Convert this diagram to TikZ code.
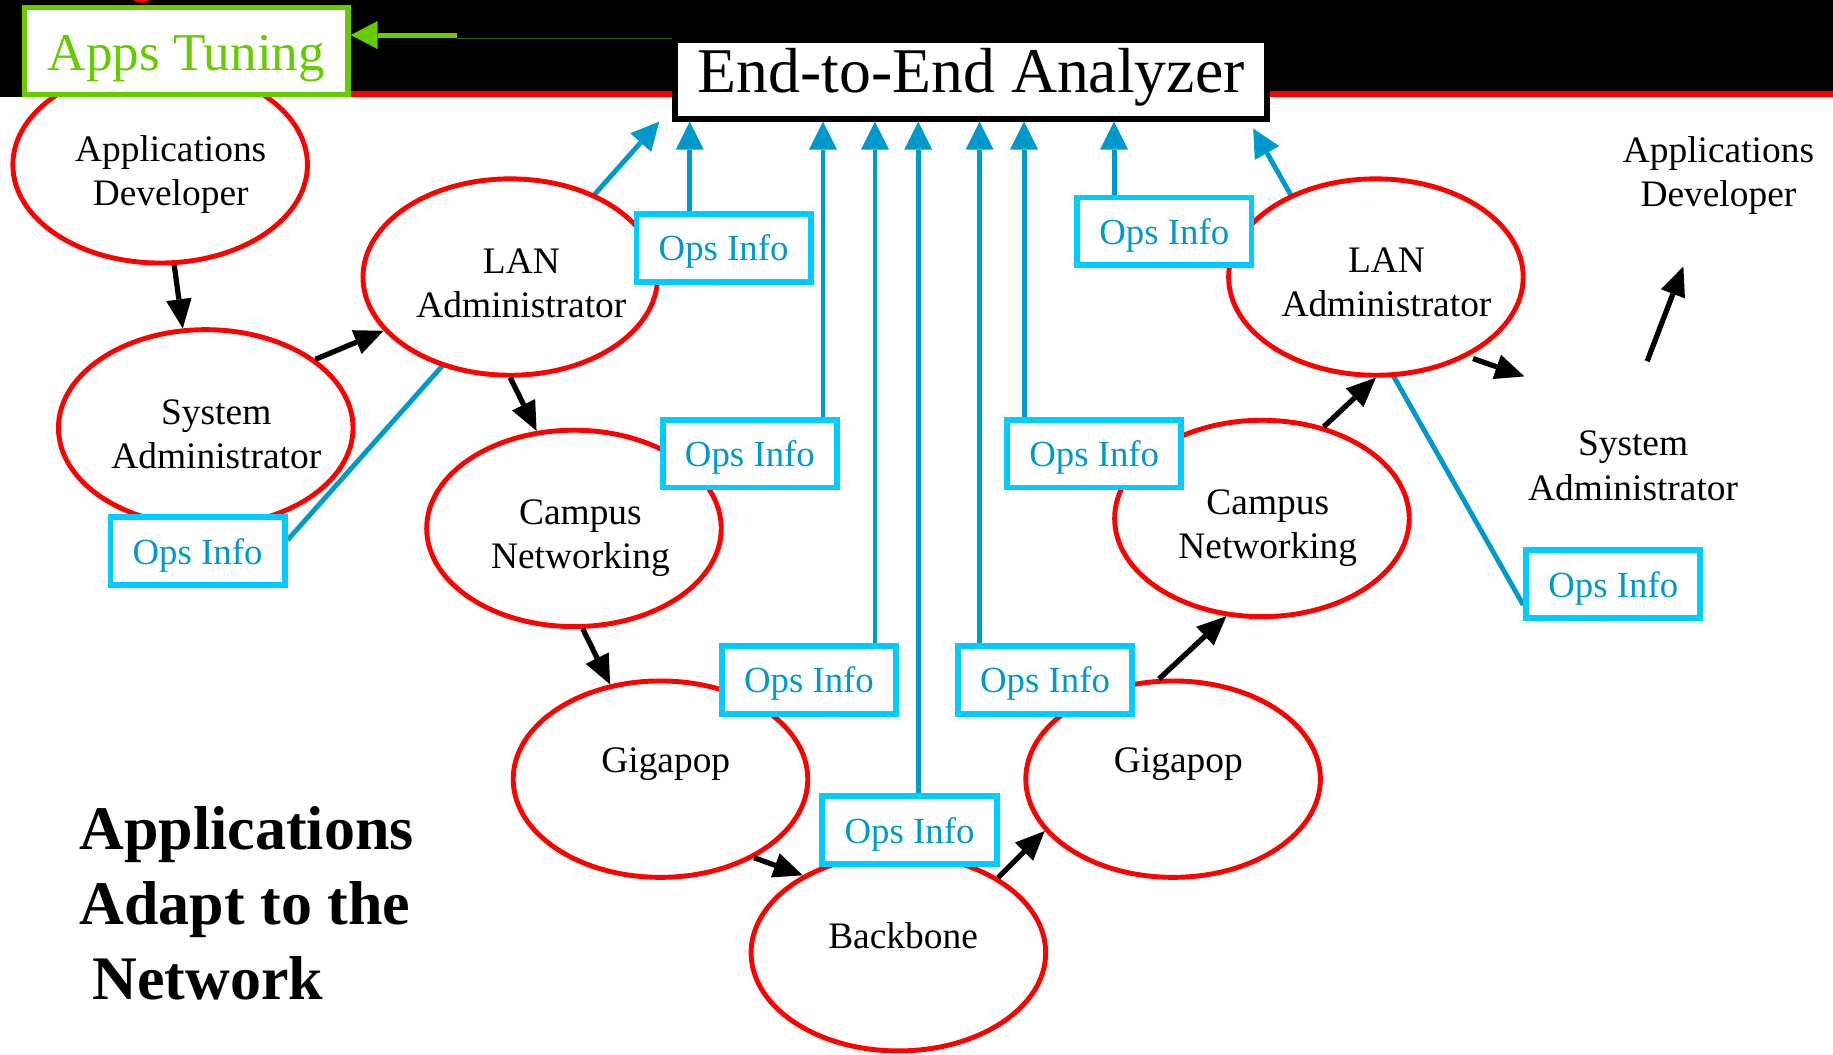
\documentclass[tikz,border=0pt]{standalone}
\usepackage{fontspec}
\setmainfont{Liberation Serif}
\usetikzlibrary{arrows.meta,shapes.geometric,calc}
\definecolor{redc}{RGB}{255,0,0}
\definecolor{bluel}{RGB}{0,153,204}
\definecolor{cyanb}{RGB}{0,204,255}
\definecolor{greenc}{RGB}{102,204,0}
\definecolor{dgreen}{RGB}{51,102,0}
\pgfdeclarelayer{bg}
\pgfdeclarelayer{lines}
\pgfsetlayers{bg,lines,main}
\begin{document}
\begin{tikzpicture}[x=1pt,y=-1pt,
  ell/.style={ellipse, draw=redc, line width=4.2pt, fill=white, minimum width=252pt, minimum height=168pt, inner sep=0pt},
  lbl/.style={font=\fontsize{32}{38}\selectfont, align=center, inner sep=0pt, anchor=base},
  ops/.style={rectangle, draw=cyanb, line width=5pt, fill=white, minimum width=149pt, minimum height=58pt, inner sep=0pt, text=bluel, font=\fontsize{31.5}{36}\selectfont, text height=25pt, text depth=2.6pt},
  blk/.style={draw=black, line width=4.5pt, -{Triangle[length=25pt,width=22pt,line width=0pt]}},
  blu/.style={draw=bluel, line width=4.2pt, -{Triangle[length=24pt,width=24pt,line width=0pt]}},
]
\useasboundingbox (0,0) rectangle (1568,902);
\begin{pgfonlayer}{bg}
\fill[white] (0,0) rectangle (1568,902);
\fill[black] (0,0) rectangle (1568,83);
\fill[redc] (290,77.6) rectangle (1568,82.7);
\end{pgfonlayer}
\fill[redc] (114,0) .. controls (117,3.2) and (125,3.2) .. (128,0) -- cycle;

% analyzer
\node[draw=black, line width=5pt, fill=white, minimum width=506.5pt, minimum height=67pt, inner sep=0pt, font=\fontsize{54.5}{60}\selectfont, text height=36pt, text depth=13.4pt] (e2e) at (830.75,68) {End-to-End Analyzer};

% ellipses
\node[ell] (appDevL) at (137,141) {};
\node[ell] (sysL) at (176,366) {};
\node[ell] (lanL) at (436.5,237) {};
\node[ell] (campL) at (491,452) {};
\node[ell] (gigaL) at (565,666.5) {};
\node[ell] (back) at (768.5,815) {};
\node[ell] (gigaR) at (1003.5,666.5) {};
\node[ell] (campR) at (1079.5,443.5) {};
\node[ell] (lanR) at (1177,237) {};

% apps tuning
\node[draw=greenc, line width=4.5pt, fill=white, minimum width=276.5pt, minimum height=74.5pt, inner sep=0pt, text=greenc, font=\fontsize{45.5}{50}\selectfont, text height=38pt, text depth=4.5pt] (apps) at (159.5,43.5) {Apps Tuning};

% free ends
\coordinate (sysRtip) at (1304,322);
\coordinate (sysRtail) at (1409,309);
\coordinate (appRtip) at (1440,228);
\coordinate (tipL) at (564,104);
\coordinate (tipR) at (1072,110);

% black arrows
\draw[blk] (appDevL.-82) -- (sysL.103);
\draw[blk] (sysL.32) -- (lanL.203);
\draw[blk] (lanL.270) -- (campL.111);
\draw[blk] (campL.-85) -- (gigaL.118);
\draw[blk] (gigaL.-40) -- (back.141);
\draw[blk] (back.37) -- (gigaR.202);
\draw[blk] (gigaR.98) -- (campR.250);
\draw[blk] (campR.56) -- (lanR.270);
\draw[blk, shorten <=5pt] (lanR.-41) -- (sysRtip);
\draw[blk] (sysRtail) -- (appRtip);

% ops info boxes
\node[ops] (ops1) at (619,212) {Ops Info};
\node[ops] (ops2) at (641.5,388) {Ops Info};
\node[ops] (ops3) at (169,471.5) {Ops Info};
\node[ops] (ops4) at (692,581.5) {Ops Info};
\node[ops] (ops5) at (894,581.5) {Ops Info};
\node[ops] (ops6) at (778,710) {Ops Info};
\node[ops] (ops7) at (936,388) {Ops Info};
\node[ops] (ops8) at (996,198) {Ops Info};
\node[ops] (ops9) at (1380,499.5) {Ops Info};

% labels
\node[lbl] (tAppDevL) at (146,176) {Applications\\Developer};
\node[lbl] (tSysL) at (185,401) {System\\Administrator};
\node[lbl] (tLanL) at (446,272) {LAN\\Administrator};
\node[lbl] (tCampL) at (496.5,486.5) {Campus\\Networking};
\node[lbl] (tGigaL) at (569.5,661) {Gigapop};
\node[lbl] (tBack) at (772.5,811) {Backbone};
\node[lbl] (tGigaR) at (1008,661) {Gigapop};
\node[lbl] (tCampR) at (1084.5,478) {Campus\\Networking};
\node[lbl] (tLanR) at (1186,271) {LAN\\Administrator};
\node[lbl] (tAppDevR) at (1470,177) {Applications\\Developer};
\node[lbl] (tSysR) at (1397,428) {System\\Administrator};

\node[anchor=base west, align=left, inner sep=0pt, font=\bfseries\fontsize{53}{64}\selectfont] (title) at (68,855) {Applications\\Adapt to the\\\hspace*{11pt}Network};

% green connector
\coordinate (gm) at (391,32.8);
\coordinate (ga) at (391,30);
\draw[dgreen, line width=1.2pt] (e2e.west |- gm) -- (gm);
\draw[greenc, line width=4.3pt, -{Triangle[length=23pt,width=24pt,line width=0pt]}] (ga) -- (apps.east |- ga);

% blue connectors
\begin{pgfonlayer}{lines}
\coordinate (b1) at ($(ops1.north)+(-29,0)$);
\coordinate (b2) at ($(ops2.north)+(62.5,0)$);
\coordinate (b4) at ($(ops4.north)+(56.5,0)$);
\coordinate (b6) at ($(ops6.north)+(7.5,0)$);
\coordinate (b5) at ($(ops5.north)+(-56,0)$);
\coordinate (b7) at ($(ops7.north)+(-60,0)$);
\coordinate (b8) at ($(ops8.north)+(-43,0)$);
\draw[blu] (b1) -- (b1 |- e2e.south);
\draw[blu] (b2) -- (b2 |- e2e.south);
\draw[blu] (b4) -- (b4 |- e2e.south);
\draw[blu] (b6) -- (b6 |- e2e.south);
\draw[blu] (b5) -- (b5 |- e2e.south);
\draw[blu] (b7) -- (b7 |- e2e.south);
\draw[blu] (b8) -- (b8 |- e2e.south);
\draw[blu] ($(ops3.east)+(0,-9.5)$) -- (tipL);
\draw[blu] ($(ops9.west)+(0,18)$) -- (tipR);
\end{pgfonlayer}
\end{tikzpicture}
\end{document}
